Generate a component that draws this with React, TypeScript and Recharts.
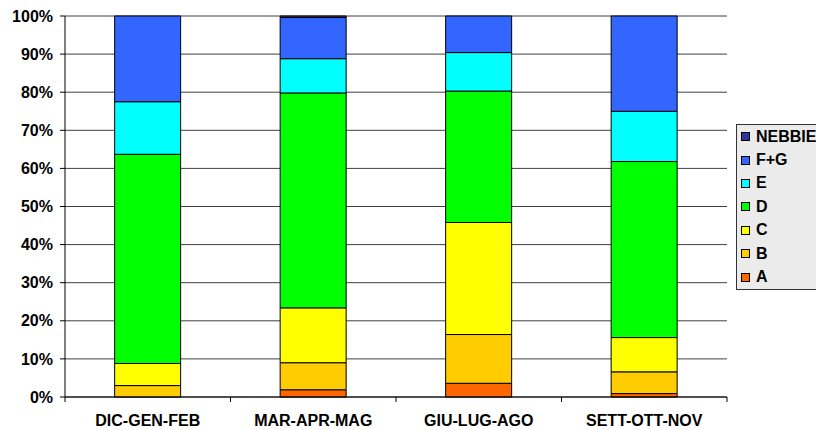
import { BarChart, Bar, XAxis, YAxis, CartesianGrid, Legend } from 'recharts';

const categories = ['DIC-GEN-FEB', 'MAR-APR-MAG', 'GIU-LUG-AGO', 'SETT-OTT-NOV'];
const valA = [0, 1.9, 3.6, 0.9];
const valB = [3.0, 7.1, 12.8, 5.7];
const valC = [5.8, 14.4, 29.4, 9.0];
const valD = [54.9, 56.4, 34.5, 46.2];
const valE = [13.8, 9.0, 10.1, 13.2];
const valFG = [22.5, 10.8, 9.6, 25.0];
const valNebbie = [0, 0.4, 0, 0];
const yTicks = [0, 10, 20, 30, 40, 50, 60, 70, 80, 90, 100];
const boundaryTicks = [0, 1, 2, 3, 4];

// stacked bottom -> top
const series = [
  { key: 'A', values: valA, color: '#FF6600' },
  { key: 'B', values: valB, color: '#FFCC00' },
  { key: 'C', values: valC, color: '#FFFF00' },
  { key: 'D', values: valD, color: '#00FF00' },
  { key: 'E', values: valE, color: '#00FFFF' },
  { key: 'F+G', values: valFG, color: '#3366FF' },
  { key: 'NEBBIE', values: valNebbie, color: '#333399' },
];

const data = categories.map((name, i) => {
  const row: Record<string, string | number> = { name, idx: i + 0.5 };
  series.forEach((s) => { row[s.key] = s.values[i]; });
  return row;
});

const font = '"Liberation Sans", Arial, sans-serif';

const LegendBox = () => (
  <div style={{
    width: 110, background: '#EBEBEB', border: '1px solid #333', boxSizing: 'border-box',
    fontFamily: font, fontWeight: 'bold', fontSize: 16, color: '#000', lineHeight: 1,
  }}>
    {[...series].reverse().map((s) => (
      <div key={s.key} style={{ height: 23.4, display: 'flex', alignItems: 'center', whiteSpace: 'nowrap' }}>
        <span style={{ width: 7, height: 7, border: '1px solid #000', background: s.color, marginLeft: 4, marginRight: 6, flex: 'none' }} />
        <span>{s.key}</span>
      </div>
    ))}
  </div>
);

export default function App() {
  return (
    <div style={{ position: 'fixed', left: 0, top: 0, width: 816, height: 430, overflow: 'hidden', background: '#fff' }}>
      <BarChart width={816} height={430} data={data} barCategoryGap="30%"
        margin={{ top: 16, right: 89, bottom: 0, left: 0 }}>
        <CartesianGrid vertical={false} stroke="#404040" yAxisId="left" />
        {/* boundary tick marks between categories, like the spreadsheet axis */}
        <XAxis xAxisId="a" type="number" dataKey="idx" domain={[0, 4]} ticks={boundaryTicks} height={1}
          tickFormatter={() => ''} tickSize={5} stroke="#000" allowDataOverflow />
        <XAxis xAxisId="b" dataKey="name" height={32} axisLine={false} tickLine={false}
          tickSize={6} tickMargin={11} interval={0}
          tick={{ fill: '#000', fontSize: 16, fontWeight: 'bold', fontFamily: font }} />
        <YAxis yAxisId="left" domain={[0, 100]} ticks={yTicks} width={65} tickSize={5} tickMargin={7}
          tickFormatter={(v) => `${v}%`} stroke="#000"
          tick={{ fill: '#000', fontSize: 16, fontWeight: 'bold', fontFamily: font }} />
        <YAxis yAxisId="r" orientation="right" domain={[0, 100]} width={0} tick={false} tickLine={false}
          stroke="#808080" />
        <Legend layout="vertical" align="center" verticalAlign="middle" content={() => <LegendBox />}
          wrapperStyle={{ position: 'absolute', left: 736, top: 124, width: 110 }} />
        {series.map((s) => (
          <Bar key={s.key} dataKey={s.key} stackId="1" xAxisId="b" yAxisId="left" fill={s.color}
            stroke="#000" strokeWidth={1} isAnimationActive={false} />
        ))}
      </BarChart>
    </div>
  );
}
